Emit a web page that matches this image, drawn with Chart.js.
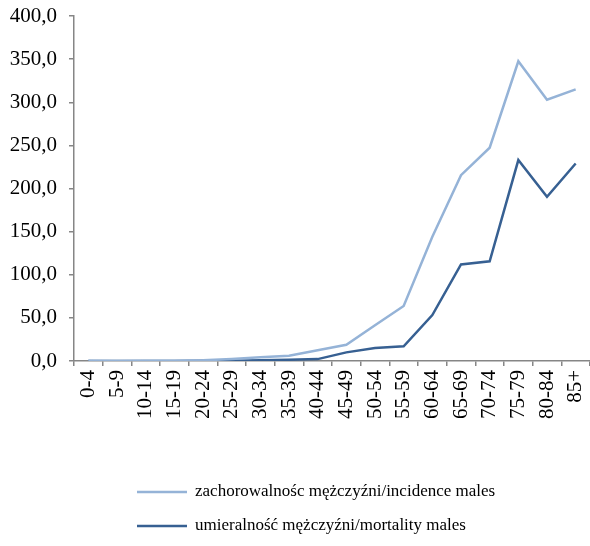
<!DOCTYPE html>
<html><head><meta charset="utf-8">
<script src="https://cdn.jsdelivr.net/npm/chart.js@4"></script>
<style>html,body{margin:0;padding:0;background:#fff;} #wrap{width:590px;height:546px;position:relative}</style>
</head><body><div id="wrap"><canvas id="c" width="590" height="546"></canvas></div>
<script>
const categories = ['0-4','5-9','10-14','15-19','20-24','25-29','30-34','35-39','40-44','45-49','50-54','55-59','60-64','65-69','70-74','75-79','80-84','85+'];
const incidenceMales = [0.2, 0.1, 0.2, 0.3, 0.8, 2.2, 4.3, 6.2, 12.5, 18.9, 41.5, 63.8, 144.0, 215.5, 247.3, 347.5, 303.0, 315.0];
const mortalityMales = [0.0, 0.0, 0.0, 0.0, 0.2, 0.4, 0.9, 1.5, 2.2, 10.0, 15.0, 17.0, 53.3, 112.0, 115.6, 233.0, 190.5, 229.0];
const seriesLabels = ['zachorowalnośc mężczyźni/incidence males', 'umieralność mężczyźni/mortality males'];
const seriesColors = ['#95B3D7', '#376092'];
const yMin = 0, yMax = 400, yStep = 50;

const FONT = '"Liberation Serif", "Times New Roman", serif';

const stackLegend = {
  id: 'stackLegend',
  afterDraw(chart) {
    const ctx = chart.ctx;
    ctx.save();
    ctx.font = '17px ' + FONT;
    ctx.textBaseline = 'middle';
    ctx.textAlign = 'left';
    chart.data.datasets.forEach((ds, i) => {
      const y = 492 + i * 34;
      ctx.strokeStyle = ds.borderColor;
      ctx.lineWidth = 2.5;
      ctx.beginPath(); ctx.moveTo(137, y); ctx.lineTo(187, y); ctx.stroke();
      ctx.fillStyle = '#000';
      ctx.fillText(ds.label, 195, y);
    });
    ctx.restore();
  }
};

new Chart(document.getElementById('c'), {
  type: 'line',
  data: {
    labels: categories,
    datasets: [
      { label: seriesLabels[0], data: incidenceMales, borderColor: seriesColors[0], backgroundColor: seriesColors[0], borderWidth: 2.5, pointRadius: 0, tension: 0, fill: false },
      { label: seriesLabels[1], data: mortalityMales, borderColor: seriesColors[1], backgroundColor: seriesColors[1], borderWidth: 2.5, pointRadius: 0, tension: 0, fill: false }
    ]
  },
  options: {
    responsive: false,
    animation: false,
    devicePixelRatio: 1,
    layout: { padding: { top: 16, right: 0, bottom: 123, left: 0 } },
    plugins: { legend: { display: false }, tooltip: { enabled: false } },
    scales: {
      x: {
        type: 'category',
        offset: true,
        grid: { display: true, drawOnChartArea: false, drawTicks: true, tickLength: 5, color: '#868686', offset: true, lineWidth: 1.5 },
        border: { color: '#868686', width: 1.5 },
        ticks: { minRotation: 90, maxRotation: 90, autoSkip: false, color: '#000', padding: 4, font: { family: FONT, size: 21 } },
        afterFit: s => { s.paddingLeft = 0; s.paddingRight = 0; }
      },
      y: {
        min: yMin, max: yMax,
        grid: { display: true, drawOnChartArea: false, drawTicks: true, tickLength: 5, color: '#868686', lineWidth: 1.5 },
        border: { color: '#868686', width: 1.5 },
        ticks: { stepSize: yStep, color: '#000', padding: 12, font: { family: FONT, size: 21 },
          callback: v => v.toFixed(1).replace('.', ',') },
        afterFit: s => { s.width = 74; s.paddingTop = 0; s.paddingBottom = 0; }
      }
    }
  },
  plugins: [stackLegend]
});
</script></body></html>
